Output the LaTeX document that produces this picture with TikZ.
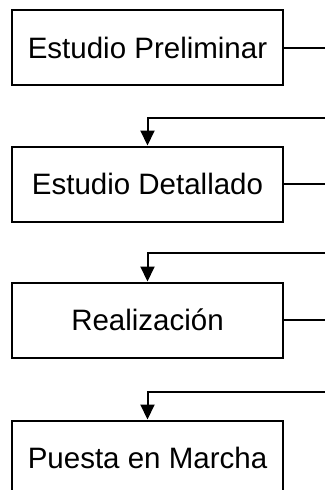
\documentclass[tikz,border=0pt]{standalone}
\usepackage{fontspec}
\setmainfont{Liberation Sans}
\usetikzlibrary{arrows.meta}
\begin{document}
\begin{tikzpicture}[x=1pt,y=-1pt,>={Triangle[width=14pt,length=15pt]}, line width=2pt, font=\fontsize{29.5}{32}\selectfont, line join=miter]
	\useasboundingbox (0,0) rectangle (324,490);
	\tikzset{etapa/.style={draw, minimum width=271pt, minimum height=75pt, inner sep=0pt}}
	\node[etapa] (P) at (147.5,47.5) {Estudio Preliminar};
	\node[etapa] (D) at (147.5,184) {Estudio Detallado};
	\node[etapa] (R) at (147.5,320) {Realización};
	\node[etapa] (M) at (147.5,458) {Puesta en Marcha};
	\coordinate (E1) at (330,118);
	\coordinate (E2) at (330,253);
	\coordinate (E3) at (330,392);
	\foreach \n/\m/\e in {P/D/E1, D/R/E2, R/M/E3} {
		\draw (\n.east) -- (\n.east -| \e);
		\draw[->] (\e) -| (\m.north);
	}
\end{tikzpicture}
\end{document}
